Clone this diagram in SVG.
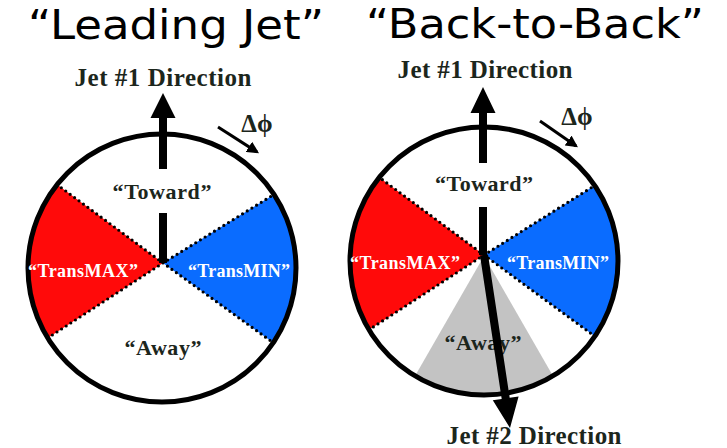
<svg xmlns="http://www.w3.org/2000/svg" width="727" height="448" viewBox="0 0 727 448">
<defs>
<style>
.title{font-family:"DejaVu Sans","Liberation Sans",sans-serif;font-size:40px;fill:#000}
.lbl{font-family:"Liberation Serif","Times New Roman",serif;font-weight:bold;fill:#1c261c}
.jet{font-size:25px}
.zone{font-size:22px}
.trans{font-size:18px;fill:#fff}
.dphi{font-size:25px}
.ring{fill:none;stroke:#000;stroke-width:5}
.dots{stroke:#000;stroke-width:3.2;stroke-linecap:round;stroke-dasharray:0 5.5;fill:none}
.red{fill:#ff0a0a}
.blue{fill:#0a6cff}
.gray{fill:#c3c3c3}
.arr{fill:#000}
.small{stroke:#000;stroke-width:3;fill:none}
</style>
<marker id="head" viewBox="0 0 10 10" refX="8" refY="5" markerWidth="4" markerHeight="4" orient="auto" markerUnits="strokeWidth">
<path d="M0,0 L10,5 L0,10 z" fill="#000"/>
</marker>
</defs>
<rect width="727" height="448" fill="#fff"/>

<g id="title-leading">
<text class="title" x="28" y="39" textLength="296" lengthAdjust="spacingAndGlyphs">“Leading Jet”</text>
</g>
<g id="title-back">
<text class="title" x="366" y="38" textLength="338" lengthAdjust="spacingAndGlyphs">“Back-to-Back”</text>
</g>

<g id="leading-jet">
<path class="red" d="M163,263 L57.1,184.6 A134,134 0 0 0 47.7,338 Z"/>
<path class="blue" d="M163,263 L274,194.4 A134,134 0 0 1 273.2,342.7 Z"/>
<path class="dots" d="M163,263 L57.1,184.6 M163,263 L274,194.4 M163,263 L47.7,338 M163,263 L273.2,342.7"/>
<circle class="ring" cx="162" cy="268" r="134"/>
<text class="lbl jet" x="163" y="86" text-anchor="middle" textLength="177">Jet #1 Direction</text>
<text class="lbl dphi" x="257" y="132" text-anchor="middle">Δϕ</text>
<text class="lbl zone" x="162" y="199" text-anchor="middle" textLength="99">“Toward”</text>
<text class="lbl trans" x="83" y="277" text-anchor="middle" textLength="110">“TransMAX”</text>
<text class="lbl trans" x="239" y="277" text-anchor="middle" textLength="102">“TransMIN”</text>
<text class="lbl zone" x="163" y="355" text-anchor="middle" textLength="77">“Away”</text>
</g>

<g id="back-to-back">
<path class="gray" d="M484,256 L415,376 A134,134 0 0 0 553,376 Z"/>
<path class="red" d="M484,255 L379.3,177.4 A134,134 0 0 0 369,329.8 Z"/>
<path class="blue" d="M484,255 L594.7,185.5 A134,134 0 0 1 594.8,336.3 Z"/>
<path class="dots" d="M484,255 L379.3,177.4 M484,255 L594.7,185.5 M484,255 L369,329.8 M484,255 L594.8,336.3"/>
<circle class="ring" cx="484" cy="261" r="134"/>
<text class="lbl jet" x="485" y="78" text-anchor="middle" textLength="175">Jet #1 Direction</text>
<text class="lbl dphi" x="577" y="125" text-anchor="middle">Δϕ</text>
<text class="lbl zone" x="484" y="191" text-anchor="middle" textLength="98">“Toward”</text>
<text class="lbl trans" x="405" y="269" text-anchor="middle" textLength="110">“TransMAX”</text>
<text class="lbl trans" x="558" y="269" text-anchor="middle" textLength="102">“TransMIN”</text>
<text class="lbl zone" x="483" y="350" text-anchor="middle" textLength="77">“Away”</text>
<text class="lbl jet" x="534" y="444" text-anchor="middle" textLength="175">Jet #2 Direction</text>
</g>

<g id="connectors">
<polygon class="arr" points="159,169 159,118 150.5,118 163,93 175.5,118 167,118 167,169"/>
<rect class="arr" x="159" y="213" width="8" height="50"/>
<line class="small" x1="218" y1="127" x2="257" y2="152" marker-end="url(#head)"/>
<polygon class="arr" points="479,163 479,113 470.5,113 483,87 495.5,113 487,113 487,163"/>
<rect class="arr" x="479" y="207" width="8" height="48"/>
<line class="small" x1="540" y1="121" x2="576" y2="146" marker-end="url(#head)"/>
<polygon class="arr" points="480,255.6 488,254.4 509.7,397.7 518.6,396.4 510,428 492.8,400.2 501.7,398.9"/>
</g>
</svg>
